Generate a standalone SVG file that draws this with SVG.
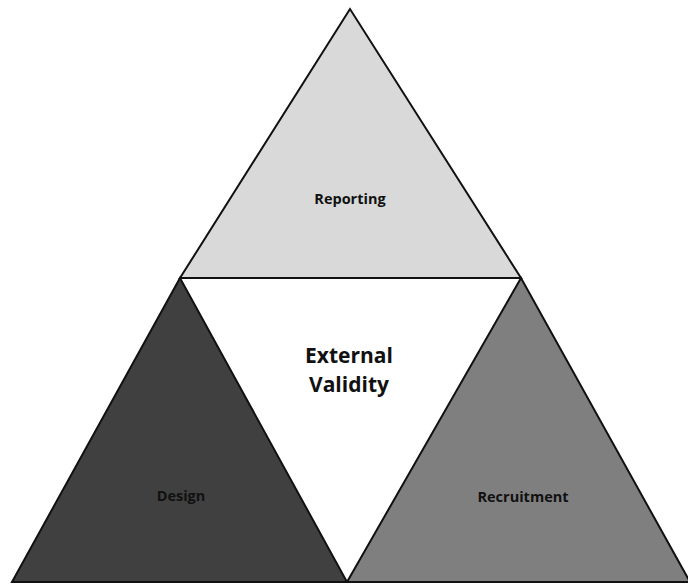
<svg xmlns="http://www.w3.org/2000/svg" width="688" height="586" viewBox="0 0 688 586">
<style>
.tri{stroke:#111;stroke-width:2;stroke-linejoin:miter}
.lbl{font-family:"Open Sans","Liberation Sans",sans-serif;font-weight:bold;fill:#111;text-anchor:middle}
.sm{font-size:14.5px}
.lg{font-size:21px}
</style>
<rect width="688" height="586" fill="#fff"/>
<g id="reporting">
<polygon class="tri" points="350,9 180,278 521,278" fill="#d9d9d9"/>
<text class="lbl sm" x="350" y="204">Reporting</text>
</g>
<g id="design">
<polygon class="tri" points="180,278 12,582 347,582" fill="#404040"/>
<text class="lbl sm" x="181" y="501">Design</text>
</g>
<g id="recruitment">
<polygon class="tri" points="521,278 347,582 690,582" fill="#7f7f7f"/>
<text class="lbl sm" x="523" y="502">Recruitment</text>
</g>
<g id="external-validity">
<text class="lbl lg" x="349" y="363">External</text>
<text class="lbl lg" x="349" y="392">Validity</text>
</g>
<g id="connectors"></g>
</svg>
